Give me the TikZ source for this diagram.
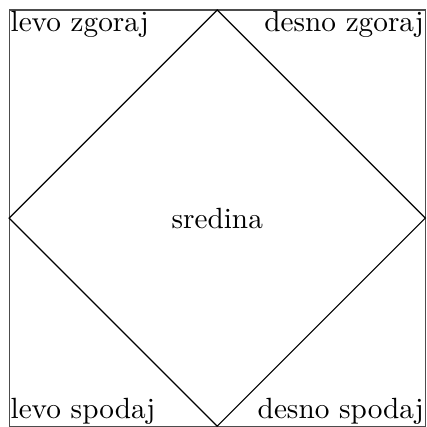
\documentclass[tikz,border=0pt]{standalone}
\usepackage{tikz}
\usetikzlibrary{positioning,calc}
\tikzset{
  frame/.style={draw, thin, gray!60!black},
  rhomb/.style={draw, thin},
  corner/.style={inner sep=0.3pt, font=\normalsize}
}

\begin{document}
\begin{tikzpicture}
\useasboundingbox (-0.11,-0.01) rectangle (5.01,5.12);

\coordinate (sw) at (0,0);
\coordinate (ne) at (5,5);
\coordinate (se) at (5,0);
\coordinate (nw) at (0,5);

\draw[frame] (sw) rectangle (ne);

\coordinate (top) at ($(nw)!0.5!(ne)$);
\coordinate (bot) at ($(sw)!0.5!(se)$);
\coordinate (lft) at ($(sw)!0.5!(nw)$);
\coordinate (rgt) at ($(se)!0.5!(ne)$);

\draw[rhomb] (top) -- (rgt) -- (bot) -- (lft) -- cycle;

\node[corner,anchor=north west] (lz) at (nw) {levo zgoraj};
\node[corner,anchor=north east] (dz) at (ne) {desno zgoraj};
\node[corner,anchor=south west] (ls) at (sw) {levo spodaj};
\node[corner,anchor=south east] (ds) at (se) {desno spodaj};
\node (mid) at (2.5,2.5) {sredina};
\end{tikzpicture}
\end{document}
